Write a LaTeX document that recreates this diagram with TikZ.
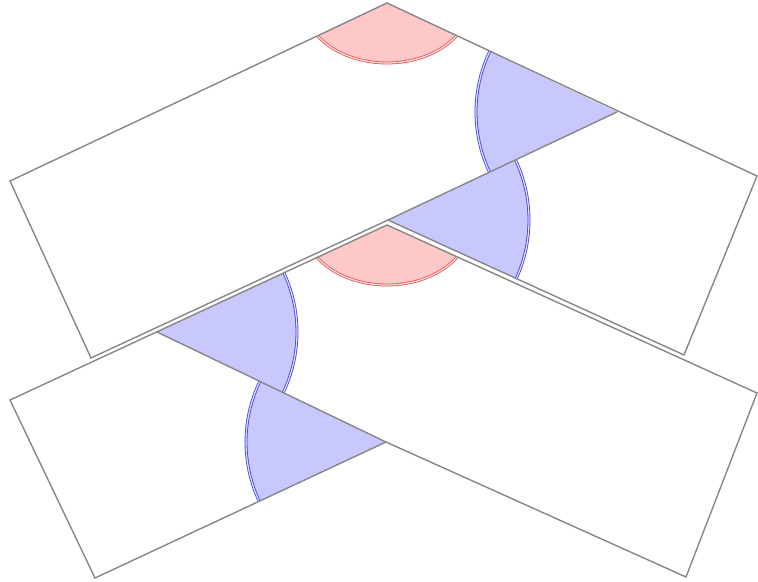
\documentclass[tikz,border=0pt]{standalone}
\usetikzlibrary{calc}

\definecolor{edgegray}{RGB}{135,135,135}
\definecolor{redfill}{RGB}{255,200,200}
\definecolor{bluefill}{RGB}{200,200,255}
\definecolor{redarc}{RGB}{230,80,80}
\definecolor{bluearc}{RGB}{60,60,230}

\tikzset{
	edge/.style={draw=edgegray, line width=0.8pt, line join=miter},
	redmark/.style={fill=redfill},
	bluemark/.style={fill=bluefill},
	redline/.style={draw=redarc, double=redfill!60!white, line width=0.45pt, double distance=0.7pt},
	blueline/.style={draw=bluearc, double=bluefill!60!white, line width=0.45pt, double distance=0.7pt},
}

% vertex, from, to, x radius, y radius, colour prefix
\newcommand\anglemark[6]{%
	\fill[#6mark] let \p1=($(#2)-(#1)$), \p2=($(#3)-(#1)$), \n1={atan2(\y1*#4/#5,\x1)},
		\n2={\n1+mod(atan2(\y2*#4/#5,\x2)-\n1+720,360)} in
		(#1) -- ++(\n1:#4 and #5) arc[start angle=\n1, end angle=\n2, x radius=#4, y radius=#5] -- cycle;
	\draw[#6line] let \p1=($(#2)-(#1)$), \p2=($(#3)-(#1)$), \n1={atan2(\y1*#4/#5,\x1)},
		\n2={\n1+mod(atan2(\y2*#4/#5,\x2)-\n1+720,360)} in
		($(#1)+(\n1:#4 and #5)$) arc[start angle=\n1, end angle=\n2, x radius=#4, y radius=#5];
}

\begin{document}
\begin{tikzpicture}[x=0.02cm, y=0.02cm]
	\useasboundingbox (0, 0) rectangle (758, -582);
	\coordinate (A1) at (10, -181);
	\coordinate (P1) at (387, -3);
	\coordinate (B1) at (757, -176);
	\coordinate (C1) at (684, -355);
	\coordinate (Q1) at (388, -220);
	\coordinate (D1) at (91, -358);
	\coordinate (E1) at (617, -112);
	\coordinate (A2) at (10, -400);
	\coordinate (P2) at (387, -225);
	\coordinate (B2) at (757, -393);
	\coordinate (C2) at (686, -577);
	\coordinate (Q2) at (386, -442);
	\coordinate (D2) at (95, -578);
	\coordinate (E2) at (157, -332);
	\anglemark{P1}{A1}{B1}{83}{60}{red}
	\anglemark{E1}{P1}{Q1}{141}{141}{blue}
	\anglemark{Q1}{C1}{E1}{141}{141}{blue}
	\anglemark{P2}{A2}{B2}{83}{60}{red}
	\anglemark{E2}{Q2}{P2}{140}{140}{blue}
	\anglemark{Q2}{E2}{D2}{140}{140}{blue}
	\draw[edge] (A2) -- (P2) -- (B2) -- (C2) -- (Q2) -- (D2) -- cycle;
	\draw[edge] (Q2) -- (E2);
	\draw[edge] (A1) -- (P1) -- (B1) -- (C1) -- (Q1) -- (D1) -- cycle;
	\draw[edge] (Q1) -- (E1);
\end{tikzpicture}
\end{document}
